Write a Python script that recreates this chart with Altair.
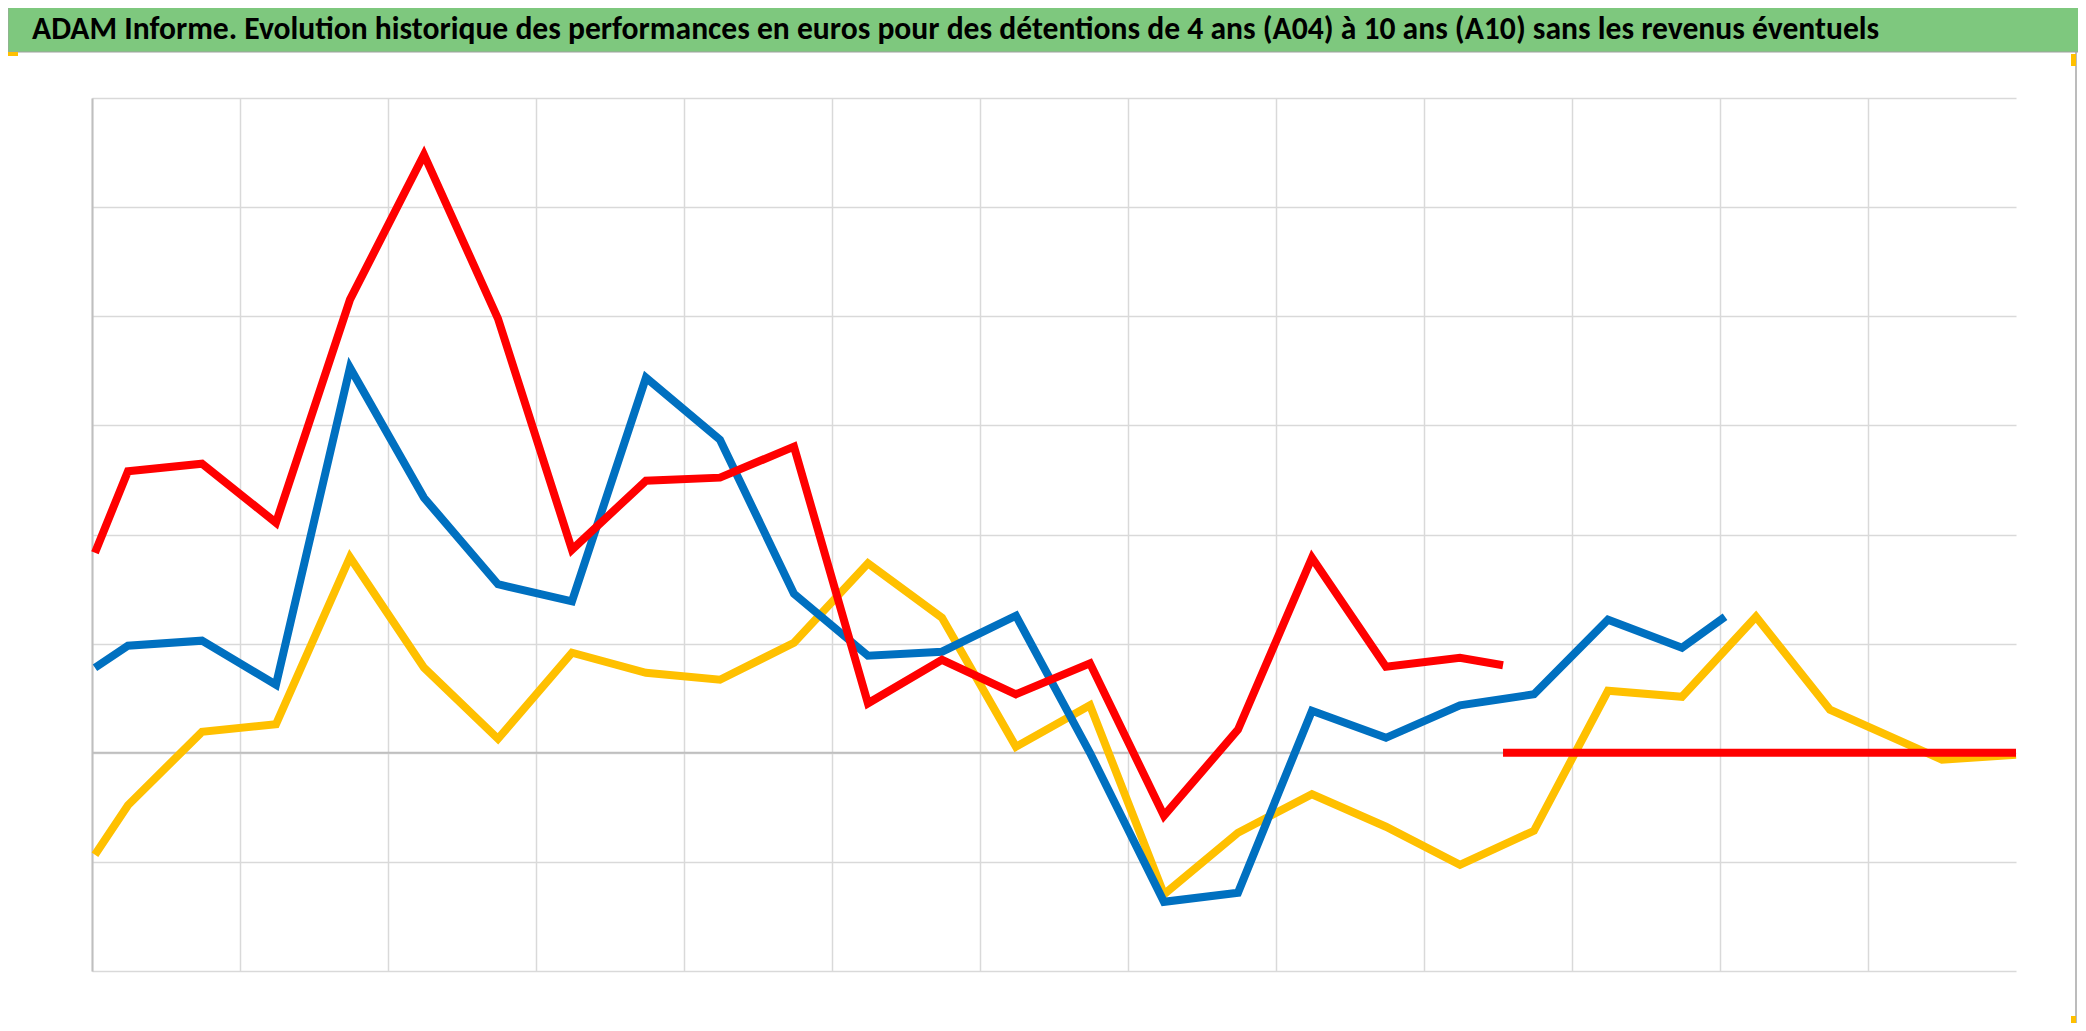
import altair as alt
import pandas as pd

TITLE = "ADAM Informe. Evolution historique des performances en euros pour des détentions de 4 ans (A04) à 10 ans (A10) sans les revenus éventuels"

X_YELLOW = [0.02, 0.243, 0.743, 1.243, 1.743, 2.243, 2.743, 3.243, 3.743, 4.243, 4.743, 5.243,
            5.743, 6.243, 6.743, 7.243, 7.743, 8.243, 8.743, 9.243, 9.743, 10.243, 10.743,
            11.243, 11.743, 12.243, 12.5, 13.0]
Y_YELLOW = [-0.935, -0.481, 0.192, 0.261, 1.792, 0.779, 0.128, 0.917, 0.733, 0.669, 1.008, 1.736,
            1.237, 0.055, 0.435, -1.297, -0.733, -0.380, -0.678, -1.027, -0.715, 0.568, 0.513,
            1.247, 0.394, 0.092, -0.064, -0.018]

X_BLUE = [0.02, 0.243, 0.743, 1.243, 1.743, 2.243, 2.743, 3.243, 3.743, 4.243, 4.743, 5.243,
          5.743, 6.243, 6.743, 7.243, 7.743, 8.243, 8.743, 9.243, 9.743, 10.243, 10.743, 11.034]
Y_BLUE = [0.779, 0.981, 1.027, 0.623, 3.529, 2.337, 1.544, 1.388, 3.437, 2.869, 1.457, 0.889,
          0.926, 1.256, 0.0, -1.366, -1.283, 0.385, 0.137, 0.435, 0.536, 1.219, 0.962, 1.247]

X_RED = [0.02, 0.243, 0.743, 1.243, 1.743, 2.243, 2.743, 3.243, 3.743, 4.243, 4.743, 5.243,
         5.743, 6.243, 6.743, 7.243, 7.743, 8.243, 8.743, 9.243, 9.534]
Y_RED = [1.833, 2.580, 2.649, 2.108, 4.152, 5.481, 3.978, 1.861, 2.493, 2.521, 2.805, 0.453,
         0.852, 0.536, 0.819, -0.577, 0.211, 1.787, 0.788, 0.871, 0.802]

X_RED_FLAT = [9.534, 13.0]
Y_RED_FLAT = [0.0, 0.0]

SERIES = ["A04", "A07", "A10", "A10b"]
COLORS = ["#FFC000", "#0070C0", "#FF0000", "#FF0000"]

rows = []
for name, xs, ys in [("A04", X_YELLOW, Y_YELLOW), ("A07", X_BLUE, Y_BLUE),
                     ("A10", X_RED, Y_RED), ("A10b", X_RED_FLAT, Y_RED_FLAT)]:
    for i, (xv, yv) in enumerate(zip(xs, ys)):
        rows.append({"serie": name, "x": xv, "y": yv, "ordre": i})
df = pd.DataFrame(rows)

W, H = 1924, 873

x_scale = alt.Scale(domain=[0, 13], nice=False, zero=False)
y_scale = alt.Scale(domain=[-2, 6], nice=False)

one = pd.DataFrame({"a": [0]})

band = alt.Chart(one).mark_rect(
    color="#7EC87E", stroke="#A0A0A0", strokeWidth=1
).encode(
    x=alt.value(-84), x2=alt.value(2000), y=alt.value(-91), y2=alt.value(-46)
)

frame = alt.Chart(one).mark_rule(color="#A6A6A6", strokeWidth=1.5).encode(
    x=alt.value(1984), y=alt.value(-46), y2=alt.value(H + 60)
)

handles = [
    alt.Chart(one).mark_rect(color="#FFC000").encode(
        x=alt.value(-84), x2=alt.value(-74), y=alt.value(-46), y2=alt.value(-42)),
    alt.Chart(one).mark_rect(color="#FFC000").encode(
        x=alt.value(1979), x2=alt.value(1984), y=alt.value(-44), y2=alt.value(-32)),
    alt.Chart(one).mark_rect(color="#FFC000").encode(
        x=alt.value(1979), x2=alt.value(1984), y=alt.value(H + 45), y2=alt.value(H + 60)),
]

title_txt = alt.Chart(pd.DataFrame({"t": [TITLE]})).mark_text(
    align="left", baseline="alphabetic", font="Carlito, Calibri, sans-serif",
    fontWeight="bold", fontSize=31.6, color="#000000"
).encode(x=alt.value(-60), y=alt.value(-59), text="t:N")

lines = alt.Chart(df).mark_line(strokeWidth=8, strokeJoin="miter", strokeCap="butt").encode(
    x=alt.X("x:Q", scale=x_scale,
            axis=alt.Axis(values=list(range(0, 13)), labels=False, ticks=False, domain=False,
                          grid=True, gridColor="#D9D9D9", gridWidth=1.5, title=None)),
    y=alt.Y("y:Q", scale=y_scale,
            axis=alt.Axis(values=list(range(-2, 7)), labels=False, ticks=False, domain=True,
                          domainColor="#BFBFBF", domainWidth=2,
                          grid=True, gridColor="#D9D9D9", gridWidth=1.5, title=None)),
    color=alt.Color("serie:N", scale=alt.Scale(domain=SERIES, range=COLORS), legend=None),
    detail="serie:N",
    order="ordre:Q",
)

zero = alt.Chart(pd.DataFrame({"z": [0]})).mark_rule(color="#BFBFBF", strokeWidth=2).encode(
    y=alt.Y("z:Q", scale=y_scale)
)

chart = alt.layer(band, frame, *handles, zero, lines, title_txt).properties(
    width=W, height=H,
    padding={"left": 84, "top": 90, "right": 62, "bottom": 52},
    autosize=alt.AutoSizeParams(type="none"),
    background="white",
).configure_view(stroke=None)

chart.save("out.html", embed_options={"renderer": "svg", "actions": False})
